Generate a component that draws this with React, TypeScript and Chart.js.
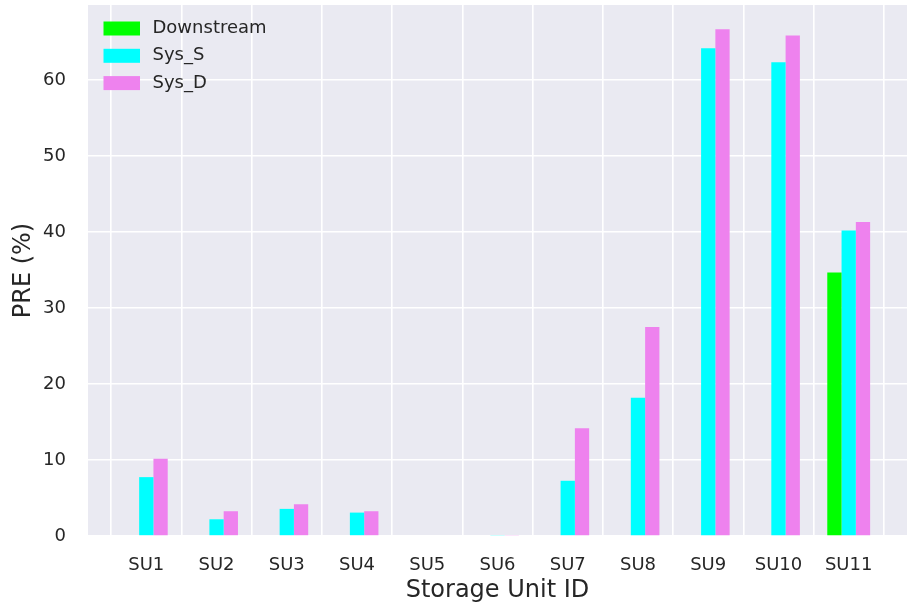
import React, { useEffect, useRef } from "react";
import { Chart, registerables } from "chart.js";

Chart.register(...registerables);

const categories = ["SU1", "SU2", "SU3", "SU4", "SU5", "SU6", "SU7", "SU8", "SU9", "SU10", "SU11"];
const downstream = [0, 0, 0, 0, 0, 0, 0, 0, 0, 0, 34.7];
const sysS = [7.75, 2.2, 3.57, 3.08, 0, 0.08, 7.27, 18.2, 64.2, 62.35, 40.2];
const sysD = [10.17, 3.26, 4.18, 3.26, 0, 0.08, 14.2, 27.5, 66.7, 65.9, 41.35];
const yTicks = [0, 10, 20, 30, 40, 50, 60];

const FONT = "'DejaVu Sans', sans-serif";
const TEXT = "#262626";

const bgPlugin = {
  id: "bgPlugin",
  beforeDraw(chart: any) {
    const { ctx, chartArea } = chart;
    ctx.save();
    ctx.fillStyle = "#EAEAF2";
    ctx.fillRect(chartArea.left, chartArea.top, chartArea.right - chartArea.left, chartArea.bottom - chartArea.top);
    ctx.restore();
  },
};

const legendPlugin = {
  id: "legendPlugin",
  afterDraw(chart: any) {
    const { ctx, chartArea } = chart;
    ctx.save();
    ctx.font = `18px ${FONT}`;
    ctx.textBaseline = "middle";
    ctx.textAlign = "left";
    chart.data.datasets.forEach((ds: any, i: number) => {
      const cy = chartArea.top + 23.5 + i * 27.3;
      ctx.fillStyle = ds.backgroundColor;
      ctx.fillRect(chartArea.left + 15.5, cy - 7, 36.5, 14);
      ctx.fillStyle = TEXT;
      ctx.fillText(ds.label, chartArea.left + 64.5, cy);
    });
    ctx.restore();
  },
};

export default function App() {
  const ref = useRef<HTMLCanvasElement>(null);
  useEffect(() => {
    document.body.style.margin = "0";
    if (!ref.current) return;
    const toPts = (arr: number[]) => arr.map((v, i) => ({ x: i, y: v }));
    const chart = new Chart(ref.current, {
      type: "bar",
      data: {
        datasets: [
          { label: "Downstream", data: toPts(downstream), backgroundColor: "#00FF00" },
          { label: "Sys_S", data: toPts(sysS), backgroundColor: "#00FFFF" },
          { label: "Sys_D", data: toPts(sysD), backgroundColor: "#EE82EE" },
        ],
      },
      options: {
        responsive: false,
        animation: false,
        layout: { padding: { left: 0, right: 3, top: 5, bottom: 0 } },
        datasets: { bar: { categoryPercentage: 0.61, barPercentage: 1, borderWidth: 0 } },
        plugins: { legend: { display: false }, tooltip: { enabled: false } },
        scales: {
          x: {
            type: "linear",
            min: -0.83,
            max: 10.83,
            offset: false,
            grid: { color: "#FFFFFF", lineWidth: 1.6, drawTicks: false },
            border: { display: false },
            ticks: {
              stepSize: 1,
              includeBounds: false,
              padding: 18.5,
              color: TEXT,
              font: { family: FONT, size: 18 },
              maxRotation: 0,
              autoSkip: false,
              callback: (v: any) => (Number.isInteger(v) && categories[v] ? categories[v] : ""),
            },
            title: {
              display: true,
              text: "Storage Unit ID",
              color: TEXT,
              font: { family: FONT, size: 24 },
              padding: { top: 0, bottom: 1.6 },
            },
            afterFit: (s: any) => {
              s.height = 71;
              s.paddingLeft = 0;
              s.paddingRight = 0;
              s.paddingTop = 0;
              s.paddingBottom = 0;
            },
          },
          y: {
            min: 0,
            max: 69.9,
            grid: { color: "#FFFFFF", lineWidth: 1.6, drawTicks: false },
            border: { display: false },
            afterBuildTicks: (s: any) => { s.ticks = yTicks.map((v) => ({ value: v })); },
            ticks: {
              stepSize: 10,
              includeBounds: false,
              padding: 22,
              color: TEXT,
              font: { family: FONT, size: 18 },
            },
            title: {
              display: true,
              text: "PRE (%)",
              color: TEXT,
              font: { family: FONT, size: 24 },
              padding: { top: 9.6, bottom: 0 },
            },
            afterFit: (s: any) => {
              s.width = 88;
              s.paddingLeft = 0;
              s.paddingRight = 0;
              s.paddingTop = 0;
              s.paddingBottom = 0;
            },
          },
        },
      },
      plugins: [bgPlugin, legendPlugin],
    } as any);
    return () => chart.destroy();
  }, []);
  return (
    <div style={{ position: "absolute", left: 0, top: 0, width: 910, height: 607 }}>
      <canvas ref={ref} width={910} height={607} />
    </div>
  );
}
